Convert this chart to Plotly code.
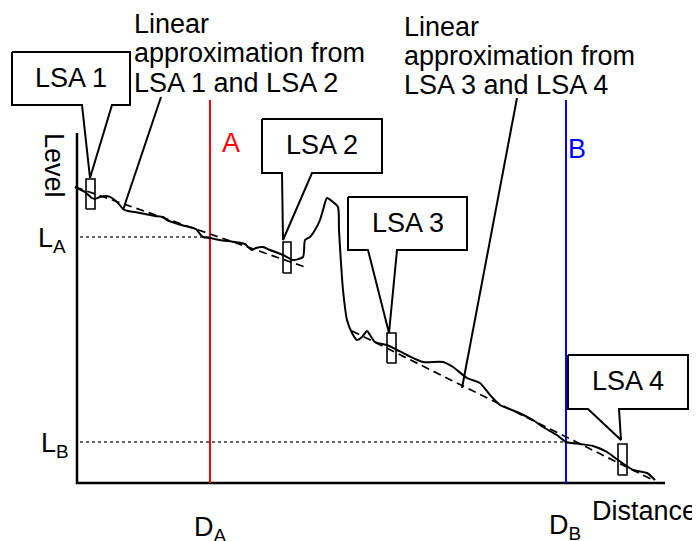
import plotly.graph_objects as go

# Trace (distance, level)
trace_distance = [-2, 8, 15, 18, 23, 30, 35, 41, 46, 51, 58, 68, 78, 86, 90, 98, 108, 116, 119, 123, 126, 133,
                  143, 158, 168, 171, 175, 179, 186, 193, 201, 206, 216, 226, 228, 233, 238, 243, 246, 250, 256,
                  261, 262, 264, 266, 270, 275, 280, 285, 290, 293, 298, 310, 320, 330, 346, 366, 376, 390, 403,
                  413, 423, 440, 456, 466, 480, 489, 503, 516, 530, 541, 556, 570, 578]
trace_level = [296, 291, 285, 284, 286, 287, 285, 280, 274, 272, 271, 269, 267, 266, 263, 260, 257, 255, 254, 249,
               246, 245, 243, 241, 239, 236, 233, 235, 236, 233, 230, 228, 223, 226, 243, 246, 253, 263, 273, 285,
               281, 276, 253, 220, 193, 163, 150, 143, 146, 152, 148, 141, 138, 133, 128, 121, 121, 116, 105, 100,
               88, 78, 71, 63, 56, 48, 41, 39, 37, 31, 23, 13, 10, 3]

# Linear approximations (end points)
approx1_distance = [-2, 228]
approx1_level = [296, 216]
approx2_distance = [275, 576]
approx2_level = [152, 3]

# LSA windows: name, d0, d1, level0, level1
lsa_names = ["LSA 1", "LSA 2", "LSA 3", "LSA 4"]
lsa_d0 = [9, 206, 310, 541]
lsa_d1 = [18, 214, 319, 550]
lsa_l0 = [274, 210, 120, 8]
lsa_l1 = [304, 241, 150, 39]

# Callout boxes: left, right, top, bottom, pointer base left/right, tip
call_left = [-65, 185, 271, 491]
call_right = [53, 305, 390, 611]
call_top = [431, 364, 286, 128]
call_bottom = [378, 310, 233, 74]
call_base1 = [5, 205, 291, 511]
call_base2 = [35, 235, 320, 542]
call_tip_d = [13, 206, 312, 544]
call_tip_l = [305, 243, 150, 43]

# Reference positions
dist_A, dist_B = 133, 489
level_A, level_B = 246, 41
marker_top = 383
axis_top, axis_right = 350, 588

fig = go.Figure()
black = "#000000"

# axes
fig.add_trace(go.Scatter(x=[0, 0, axis_right], y=[axis_top, 0, 0], mode="lines",
                         line=dict(color=black, width=2.5), hoverinfo="skip"))
# dotted guides
fig.add_trace(go.Scatter(x=[3, dist_A], y=[level_A, level_A], mode="lines",
                         line=dict(color="#333333", width=1.5, dash="dot"), hoverinfo="skip"))
fig.add_trace(go.Scatter(x=[3, dist_B], y=[level_B, level_B], mode="lines",
                         line=dict(color="#333333", width=1.5, dash="dot"), hoverinfo="skip"))
# markers A and B
fig.add_trace(go.Scatter(x=[dist_A, dist_A], y=[0, marker_top], mode="lines",
                         line=dict(color="#ff0000", width=2), hoverinfo="skip"))
fig.add_trace(go.Scatter(x=[dist_B, dist_B], y=[0, marker_top], mode="lines",
                         line=dict(color="#0000ff", width=2), hoverinfo="skip"))
# approximations
for xs, ys in [(approx1_distance, approx1_level), (approx2_distance, approx2_level)]:
    fig.add_trace(go.Scatter(x=xs, y=ys, mode="lines",
                             line=dict(color=black, width=1.7, dash="8px,5px"), hoverinfo="skip"))
# trace
fig.add_trace(go.Scatter(x=trace_distance, y=trace_level, mode="lines",
                         line=dict(color=black, width=2, shape="spline", smoothing=0.6), hoverinfo="skip"))
# LSA windows
for i in range(4):
    fig.add_trace(go.Scatter(x=[lsa_d0[i], lsa_d1[i], lsa_d1[i], lsa_d0[i], lsa_d0[i]],
                             y=[lsa_l0[i], lsa_l0[i], lsa_l1[i], lsa_l1[i], lsa_l0[i]],
                             mode="lines", line=dict(color=black, width=1.6), hoverinfo="skip"))
# pointer lines for approximations
fig.add_trace(go.Scatter(x=[84, 46], y=[386, 273], mode="lines", line=dict(color=black, width=2), hoverinfo="skip"))
fig.add_trace(go.Scatter(x=[440, 385], y=[385, 95], mode="lines", line=dict(color=black, width=2), hoverinfo="skip"))
# callouts
for i in range(4):
    xs = [call_left[i], call_right[i], call_right[i], call_base2[i], call_tip_d[i], call_base1[i], call_left[i], call_left[i]]
    ys = [call_top[i], call_top[i], call_bottom[i], call_bottom[i], call_tip_l[i], call_bottom[i], call_bottom[i], call_top[i]]
    fig.add_trace(go.Scatter(x=xs, y=ys, mode="lines", fill="toself", fillcolor="white",
                             line=dict(color=black, width=2), hoverinfo="skip"))

font = dict(family="Liberation Sans, Arial, sans-serif", size=27, color=black)
ann = []
for i in range(4):
    ann.append(dict(x=(call_left[i] + call_right[i]) / 2, y=(call_top[i] + call_bottom[i]) / 2 + 1,
                    text=lsa_names[i], showarrow=False, font=font, xanchor="center", yanchor="middle"))
lines1 = ["Linear", "approximation from", "LSA 1 and LSA 2"]
lines2 = ["Linear", "approximation from", "LSA 3 and LSA 4"]
for k in range(3):
    ann.append(dict(x=55, y=459 - 29.3 * k, text=lines1[k], showarrow=False, font=font, xanchor="left", yanchor="middle"))
    ann.append(dict(x=325, y=456 - 29 * k, text=lines2[k], showarrow=False, font=font, xanchor="left", yanchor="middle"))
ann += [
    dict(x=154, y=340, text="A", showarrow=False, font=dict(font, color="#ff0000"), xanchor="center", yanchor="middle"),
    dict(x=500, y=334, text="B", showarrow=False, font=dict(font, color="#0000ff"), xanchor="center", yanchor="middle"),
    dict(x=-23, y=318, text="Level", textangle=90, showarrow=False, font=font, xanchor="center", yanchor="middle"),
    dict(x=-9, y=243, text="L<sub>A</sub>", showarrow=False, font=font, xanchor="right", yanchor="middle"),
    dict(x=-6, y=38, text="L<sub>B</sub>", showarrow=False, font=font, xanchor="right", yanchor="middle"),
    dict(x=115, y=-46, text="D<sub>A</sub>", showarrow=False, font=font, xanchor="left", yanchor="middle"),
    dict(x=470, y=-44, text="D<sub>B</sub>", showarrow=False, font=font, xanchor="left", yanchor="middle"),
    dict(x=513, y=-28, text="Distance", showarrow=False, font=font, xanchor="left", yanchor="middle"),
]

# The page puts the figure 8 px in from the top-left corner; the ranges compensate.
fig.update_layout(
    width=700, height=541, margin=dict(l=0, r=0, t=0, b=0),
    paper_bgcolor="white", plot_bgcolor="white", showlegend=False,
    xaxis=dict(range=[-69, 631], visible=False, fixedrange=True),
    yaxis=dict(range=[-66, 475], visible=False, fixedrange=True),
    annotations=ann,
)
fig.write_html("out.html")
